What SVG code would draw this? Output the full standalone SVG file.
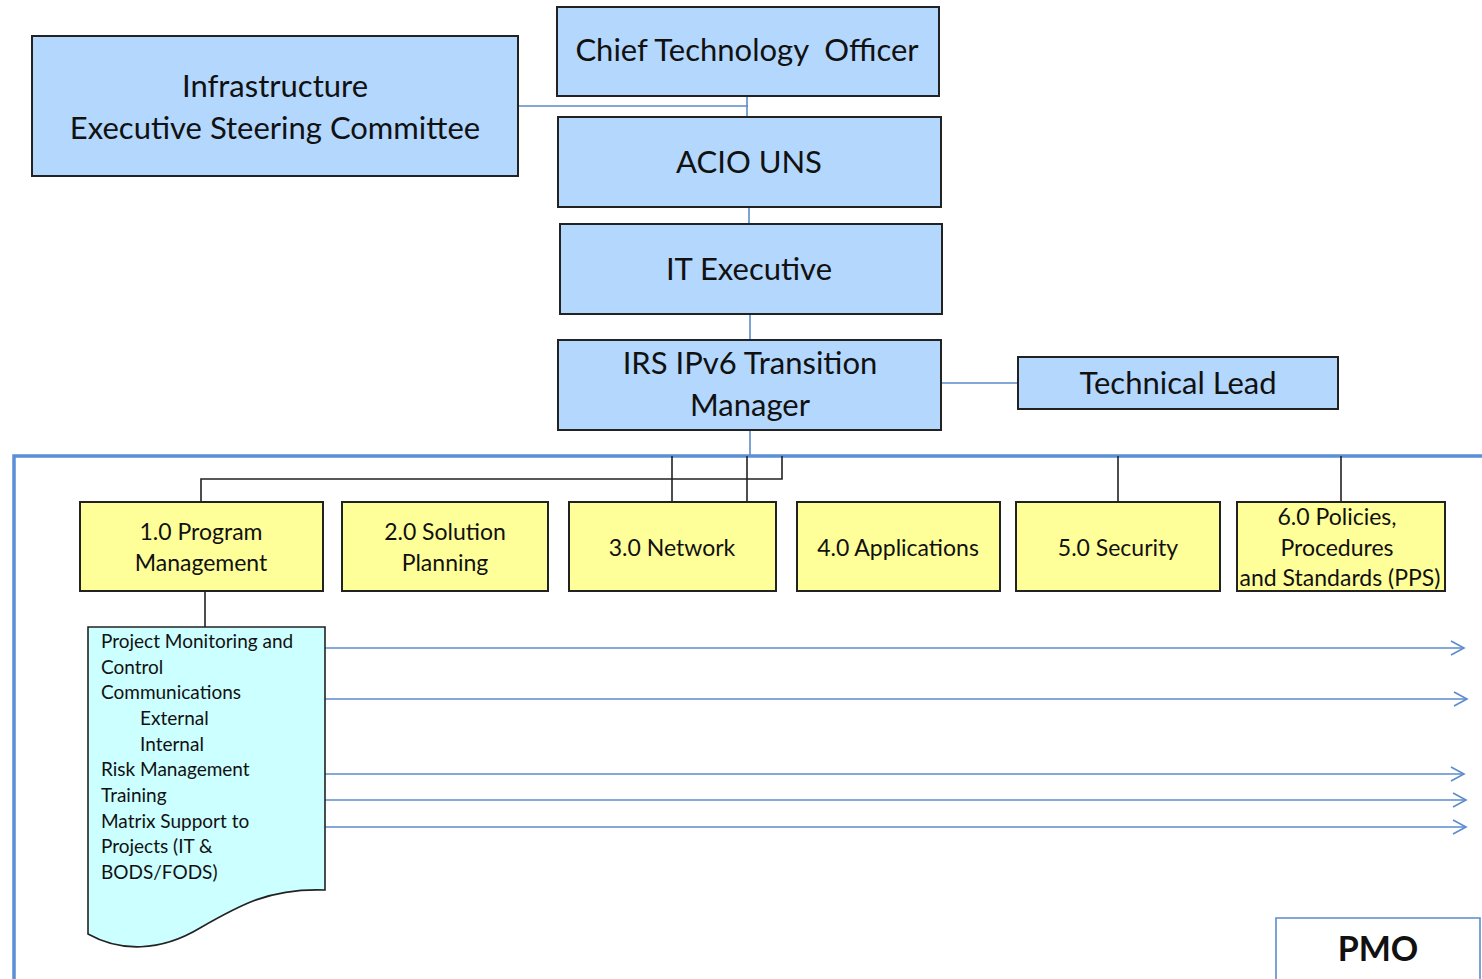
<svg xmlns="http://www.w3.org/2000/svg" width="1482" height="979" viewBox="0 0 1482 979">
<style>
text{font-family:Lato,"Liberation Sans",sans-serif;fill:#111;text-anchor:middle}
.blue{fill:#b3d7fd;stroke:#222;stroke-width:2}
.yel{fill:#ffff99;stroke:#222;stroke-width:2}
.big{font-size:31px}
.mid{font-size:23px}
.sm{font-size:19px;text-anchor:start}
.bc{stroke:#5b8ccb;stroke-width:1.6;fill:none}
.kc{stroke:#222;stroke-width:1.6;fill:none}
.ar{stroke:#5b8ccb;stroke-width:1.6;fill:none}
</style>
<defs>
<marker id="arr" markerWidth="16" markerHeight="16" refX="14" refY="8" orient="auto" markerUnits="userSpaceOnUse">
<path d="M1,1 L14,8 L1,15" fill="none" stroke="#5b8ccb" stroke-width="1.6"/>
</marker>
</defs>
<rect width="1482" height="979" fill="#fff"/>
<g id="frame">
<path d="M14,979 L14,456 L1482,456" fill="none" stroke="#5b8fd6" stroke-width="3.5"/>
</g>
<g id="connectors">
<path class="bc" d="M518,106 H748 M747,96 V117 M749,207 V224 M750,314 V340 M750,430 V455 M941,383 H1018"/>
<path class="kc" d="M782,456 V479 H201 V502 M672,456 V502 M747,456 V502 M1118,456 V502 M1341,456 V502 M205,591 V627"/>
<line class="ar" x1="325" y1="648" x2="1464" y2="648" marker-end="url(#arr)"/>
<line class="ar" x1="325" y1="699" x2="1467" y2="699" marker-end="url(#arr)"/>
<line class="ar" x1="325" y1="774" x2="1464" y2="774" marker-end="url(#arr)"/>
<line class="ar" x1="325" y1="800" x2="1466" y2="800" marker-end="url(#arr)"/>
<line class="ar" x1="325" y1="827" x2="1466" y2="827" marker-end="url(#arr)"/>
</g>
<g id="esc">
<rect class="blue" x="32" y="36" width="486" height="140"/>
<text class="big" x="275" y="97">Infrastructure</text>
<text class="big" x="275" y="139">Executive Steering Committee</text>
</g>
<g id="cto">
<rect class="blue" x="557" y="7" width="382" height="89"/>
<text class="big" x="747" y="61">Chief Technology&#160; Officer</text>
</g>
<g id="acio">
<rect class="blue" x="558" y="117" width="383" height="90"/>
<text class="big" x="749" y="173">ACIO UNS</text>
</g>
<g id="itexec">
<rect class="blue" x="560" y="224" width="382" height="90"/>
<text class="big" x="749" y="280">IT Executive</text>
</g>
<g id="irs">
<rect class="blue" x="558" y="340" width="383" height="90"/>
<text class="big" x="750" y="374">IRS IPv6 Transition</text>
<text class="big" x="750" y="416">Manager</text>
</g>
<g id="techlead">
<rect class="blue" x="1018" y="357" width="320" height="52"/>
<text class="big" x="1178" y="394">Technical Lead</text>
</g>
<g id="n1">
<rect class="yel" x="80" y="502" width="243" height="89"/>
<text class="mid" x="201" y="540">1.0 Program</text>
<text class="mid" x="201" y="571">Management</text>
</g>
<g id="n2">
<rect class="yel" x="342" y="502" width="206" height="89"/>
<text class="mid" x="445" y="540">2.0 Solution</text>
<text class="mid" x="445" y="571">Planning</text>
</g>
<g id="n3">
<rect class="yel" x="569" y="502" width="207" height="89"/>
<text class="mid" x="672" y="556">3.0 Network</text>
</g>
<g id="n4">
<rect class="yel" x="797" y="502" width="203" height="89"/>
<text class="mid" x="898" y="556">4.0 Applications</text>
</g>
<g id="n5">
<rect class="yel" x="1016" y="502" width="204" height="89"/>
<text class="mid" x="1118" y="556">5.0 Security</text>
</g>
<g id="n6">
<rect class="yel" x="1237" y="502" width="208" height="89"/>
<text class="mid" x="1337" y="525">6.0 Policies,</text>
<text class="mid" x="1337" y="556">Procedures</text>
<text class="mid" x="1340" y="586">and Standards (PPS)</text>
</g>
<g id="pmtasks">
<path d="M88,627 H325 V890 C270,888 240,905 200,928 C160,952 120,952 88,934 Z" fill="#ccffff" stroke="#222" stroke-width="1.6"/>
<text class="sm" x="101" y="648">Project Monitoring and</text>
<text class="sm" x="101" y="674">Control</text>
<text class="sm" x="101" y="699">Communications</text>
<text class="sm" x="140" y="725">External</text>
<text class="sm" x="140" y="751">Internal</text>
<text class="sm" x="101" y="776">Risk Management</text>
<text class="sm" x="101" y="802">Training</text>
<text class="sm" x="101" y="828">Matrix Support to</text>
<text class="sm" x="101" y="853">Projects (IT &amp;</text>
<text class="sm" x="101" y="879">BODS/FODS)</text>
</g>
<g id="pmo">
<path d="M1276,979 V918 H1480 V979" fill="#fff" stroke="#5b8ccb" stroke-width="1.6"/>
<text x="1378" y="961" style="font-size:34px;font-weight:bold">PMO</text>
</g>
</svg>
